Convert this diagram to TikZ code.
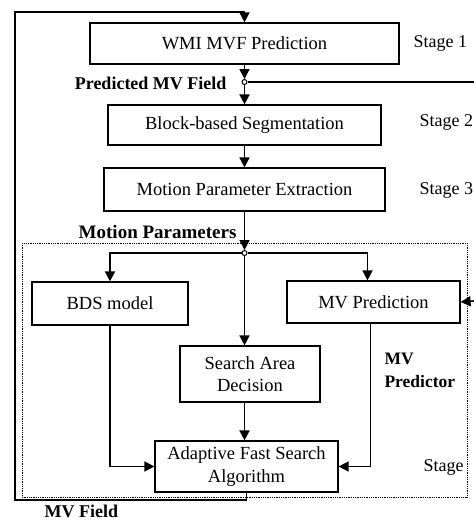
\documentclass[tikz,border=0pt]{standalone}
\usepackage{fontspec}
\setmainfont{Liberation Serif}
\usetikzlibrary{arrows.meta, positioning}

\begin{document}
\begin{tikzpicture}[x=1pt, y=-1pt,
	freccia/.style={line width=1.6pt, -{Triangle[width=10pt,length=10pt]}},
	linea/.style={line width=1.6pt},
	blocco/.style={draw, line width=1.2pt, inner sep=0pt, align=center, font=\fontsize{18.5}{22.5}\selectfont},
	fase/.style={anchor=west, font=\fontsize{18}{21}\selectfont},
	etichetta/.style={font=\bfseries\fontsize{18}{21}\selectfont},
	nodo/.style={circle, draw, line width=1pt, fill=white, inner sep=0pt, minimum size=5pt}]
	
	\useasboundingbox (0,0) rectangle (474,520);
	
	%%% Blocchi
	\node[blocco, minimum width=309pt, minimum height=41pt] (wmi) at (244.5,43.5) {WMI MVF Prediction};
	\node[blocco, minimum width=273pt, minimum height=40pt] (seg) at (244.5,125) {Block-based Segmentation};
	\node[blocco, minimum width=281pt, minimum height=43pt] (mpe) at (244.5,189.5) {Motion Parameter Extraction};
	\node[blocco, minimum width=156pt, minimum height=43pt] (bds) at (110,303.5) {BDS model};
	\node[blocco, minimum width=173pt, minimum height=42pt] (mvp) at (373.5,302) {MV Prediction};
	\node[blocco, minimum width=140pt, minimum height=56pt] (sad) at (250,374) {Search Area\\Decision};
	\node[blocco, minimum width=183pt, minimum height=51pt] (afs) at (246.5,466.5) {Adaptive Fast Search\\Algorithm};
	
	%%% Stadio del predittore (riquadro punteggiato)
	\draw[densely dotted, line width=0.8pt] (22,243) rectangle (467,497);
	
	%%% Nodi di diramazione
	\node[nodo] (jp) at (244.5,82) {};
	\node[nodo] (jm) at (244.5,253) {};
	\coordinate (rOut) at (474,82);
	\coordinate (rIn) at (474,301);
	\coordinate (fbS) at (15,500);
	\coordinate (fbN) at (15,12);
	
	%%% Etichette
	\node[fase] (s1) at (410,43) {Stage 1};
	\node[fase] (s2) at (416,122) {Stage 2};
	\node[fase] (s3) at (416,190) {Stage 3};
	\node[fase] (s4) at (420,467) {Stage};
	\node[etichetta, anchor=east] (lpred) at (230,83) {Predicted MV Field};
	\node[anchor=east, font=\bfseries\fontsize{19}{22}\selectfont] (lpar) at (240,232) {Motion Parameters};
	\node[anchor=north west, align=left, font=\bfseries\fontsize{17.5}{23}\selectfont] (lmvp) at (381,350) {MV\\Predictor};
	\node[etichetta, anchor=west] (lmvf) at (41,511) {MV Field};
	
	%%% Collegamenti
	\draw[freccia] (wmi.south) -- (jp);
	\draw[freccia] (jp) -- (seg.north);
	\draw[linea] (jp) -- (rOut);
	\draw[freccia] (rIn) -- (mvp.east);
	\draw[freccia] (seg.south) -- (mpe.north);
	\draw[freccia] (mpe.south) -- (jm);
	\draw[freccia] (jm) -| (bds.north);
	\draw[freccia] (jm) -| ([xshift=-6pt]mvp.north);
	\draw[freccia] (jm) -- (jm |- sad.north);
	\draw[freccia] (sad.south -| jm) -- (jm |- afs.north);
	\draw[freccia] (bds.south) |- (afs.west);
	\draw[freccia] ([xshift=-3pt]mvp.south) |- (afs.east);
	% retroazione del campo MV
	\draw[freccia] (afs.south) -- (afs.south |- fbS) -- (fbS) -- (fbN) -| (wmi.north);
\end{tikzpicture}
\end{document}
